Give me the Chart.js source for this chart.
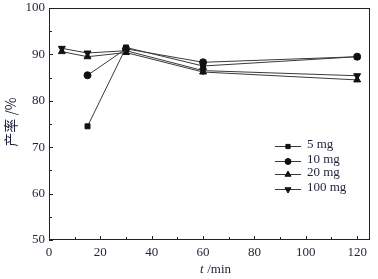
<!DOCTYPE html>
<html><head><meta charset="utf-8">
<script src="https://cdn.jsdelivr.net/npm/chart.js@4"></script>
<style>html,body{margin:0;padding:0;background:#fff}#w{width:378px;height:279px}</style>
</head><body><div id="w"><canvas id="c"></canvas></div>
<script>
const seriesNames = ['5 mg','10 mg','20 mg','100 mg'];
const times5 = [15,30,60,120];
const yield5 = [74.5,91.5,87.5,89.5];
const times10 = [15,30,60,120];
const yield10 = [85.5,91.2,88.3,89.5];
const times20 = [5,15,30,60,120];
const yield20 = [90.6,89.5,90.4,86.2,84.5];
const times100 = [5,15,30,60,120];
const yield100 = [91.3,90.3,90.8,86.5,85.4];
const xTicks = [0,20,40,60,80,100,120];
const yTicks = [50,60,70,80,90,100];

const FONT = '"Liberation Serif","DejaVu Serif",serif';
const TXT = '#1d2238';
const styles = [
  {ps:'rect', r:3.5, rot:0},
  {ps:'circle', r:3.5, rot:0},
  {ps:'triangle', r:4, rot:0},
  {ps:'triangle', r:4, rot:180}
];
const tv = [times5,times10,times20,times100];
const yv = [yield5,yield10,yield20,yield100];
const datasets = seriesNames.map((n,i)=>({
  label:n,
  data: tv[i].map((t,j)=>({x:t,y:yv[i][j]})),
  borderColor:'#3a3a3a', borderWidth:1,
  pointStyle:styles[i].ps, pointRadius:styles[i].r, pointRotation:styles[i].rot,
  pointBackgroundColor:'#111', pointBorderColor:'#111', pointBorderWidth:1,
  tension:0
}));

const deco = {
  id:'deco',
  afterDraw(ch){
    const c = ch.ctx, a = ch.chartArea, xs = ch.scales.x, ys = ch.scales.y;
    c.save();
    c.strokeStyle = '#222'; c.lineWidth = 1;
    c.strokeRect(a.left+0.5, a.top+0.5, a.right-a.left-1, a.bottom-a.top-1);
    c.beginPath();
    for(let v=0; v<=120; v+=10){
      const p = Math.round(xs.getPixelForValue(v))+0.5;
      const L = v%20===0?4:3;
      c.moveTo(p,a.bottom); c.lineTo(p,a.bottom-L);
    }
    for(let v=50; v<=100; v+=5){
      const p = Math.round(ys.getPixelForValue(v))+0.5;
      const L = v%10===0?4:3;
      c.moveTo(a.left,p); c.lineTo(a.left+L,p);
    }
    c.stroke();
    // titles
    c.fillStyle = TXT;
    c.textBaseline = 'middle';
    c.font = 'italic 13px '+FONT;
    c.textAlign = 'left';
    c.fillText('t', 200, 270);
    c.font = '13px '+FONT;
    c.fillText(' /min', 204, 270);
    c.save();
    c.translate(11, 122);
    c.rotate(-Math.PI/2);
    c.textAlign = 'center';
    c.font = '14px "Noto Sans CJK SC"';
    c.fillText('产率 /%', 0, 0);
    c.restore();
    // legend
    const rows = [146,161,174,189];
    rows.forEach((y,i)=>{
      c.strokeStyle = '#3a3a3a'; c.lineWidth = 1;
      c.beginPath(); c.moveTo(275,y+0.5); c.lineTo(301,y+0.5); c.stroke();
      c.fillStyle = '#111'; c.strokeStyle = '#111';
      Chart.helpers.drawPoint(c,{pointStyle:styles[i].ps, radius:styles[i].r-0.5, rotation:styles[i].rot, borderWidth:1}, 288, y+0.5);
      c.fillStyle = TXT;
      c.font = '13px '+FONT;
      c.textAlign = 'left';
      c.fillText(seriesNames[i], 307, y-1);
    });
    c.restore();
  }
};

new Chart(document.getElementById('c'), {
  type:'line',
  data:{datasets},
  options:{
    responsive:true, maintainAspectRatio:false, animation:false,
    layout:{padding:{top:8,right:8,left:0,bottom:0}},
    plugins:{legend:{display:false}, tooltip:{enabled:false}},
    scales:{
      x:{type:'linear', min:0, max:125,
        afterBuildTicks(s){ s.ticks = xTicks.map(v=>({value:v})); },
        afterFit(s){ s.height = 39; s.paddingLeft = 0; s.paddingRight = 0; },
        grid:{display:false, drawTicks:false, tickLength:0}, border:{display:false},
        ticks:{color:TXT, font:{family:FONT,size:13}, padding:5, maxRotation:0, autoSkip:false}
      },
      y:{type:'linear', min:50, max:100,
        afterBuildTicks(s){ s.ticks = yTicks.map(v=>({value:v})); },
        afterFit(s){ s.width = 49; s.paddingTop = 0; s.paddingBottom = 0; },
        grid:{display:false, drawTicks:false, tickLength:0}, border:{display:false},
        ticks:{color:TXT, font:{family:FONT,size:13}, padding:4, autoSkip:false}
      }
    }
  },
  plugins:[deco]
});
</script></body></html>
